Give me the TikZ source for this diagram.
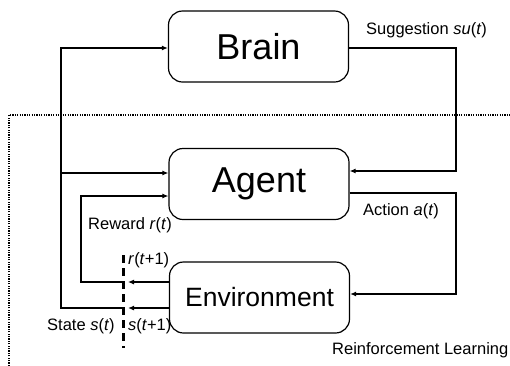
\documentclass[tikz,border=0pt]{standalone}
\usepackage{fontspec}
\setmainfont{Liberation Sans}
\usetikzlibrary{arrows.meta}
\begin{document}
\begin{tikzpicture}[x=1pt,y=-1pt,
  box/.style={draw,line width=1.2pt,rounded corners=14pt,minimum width=180pt,minimum height=71pt,inner sep=0pt},
  thickln/.style={line width=2pt},
  thinln/.style={line width=1.1pt},
  arr/.style={-{Latex[length=6pt,width=5pt]}},
  lbl/.style={inner sep=0pt,font=\fontsize{16.5}{18}\selectfont}]
\useasboundingbox (0,0) rectangle (510,365);
\node[box,font=\fontsize{36}{40}\selectfont] (brain) at (258.5,46.5) {Brain};
\node[box,font=\fontsize{36}{40}\selectfont] (agent) at (259,184) {Agent};
\node[box,font=\fontsize{26.5}{30}\selectfont] (env) at (259.5,297.5) {Environment};
% dotted frame
\coordinate (fb) at (9,366);
\coordinate (ft) at (9,115);
\coordinate (fr) at (511,115);
\draw[line width=1.4pt,dash pattern=on 1.2pt off 1.2pt] (fb) -- (ft) -- (fr);
% dashed separator
\coordinate (dt) at (123,255);
\coordinate (db) at (123,348);
\draw[line width=3pt,dash pattern=on 8pt off 5pt] (dt) -- (db);
% state loop
\coordinate (sa) at (128,308);
\coordinate (sb) at (122,308);
\coordinate (sl) at (61,308);
\draw[thickln,arr] (env.west |- sa) -- (sa);
\draw[thickln,arr] (sb) -- (sl) |- (brain.west |- 0,48);
\draw[thickln,arr] (61,173) -- (agent.west |- 0,173);
% reward loop
\coordinate (ra) at (128,282);
\coordinate (rb) at (122,282);
\coordinate (rl) at (81,282);
\draw[thinln,arr] (env.west |- ra) -- (ra);
\draw[thinln,arr] (rb) -- (rl) |- (agent.west |- 0,196);
% suggestion
\coordinate (sr) at (456,48);
\draw[thickln,arr] (brain.east |- sr) -- (sr) |- (agent.east |- 0,171);
% action
\coordinate (ar) at (456,193);
\draw[thickln,arr] (agent.east |- ar) -- (ar) |- (env.east |- 0,294);
% labels
\node[lbl,anchor=west] (lsug) at (366,30) {Suggestion \textit{su}(\textit{t})};
\node[lbl,anchor=west] (lact) at (363,211) {Action \textit{a}(\textit{t})};
\node[lbl,anchor=west] (lrew) at (88,225) {Reward \textit{r}(\textit{t})};
\node[lbl,anchor=west] (lr1) at (128,260) {\textit{r}(\textit{t}+1)};
\node[lbl,anchor=west] (lst) at (47,326) {State \textit{s}(\textit{t})};
\node[lbl,anchor=west] (ls1) at (128,326) {\textit{s}(\textit{t}+1)};
\node[lbl,anchor=west] (lrl) at (332,350) {Reinforcement Learning};
\end{tikzpicture}
\end{document}
